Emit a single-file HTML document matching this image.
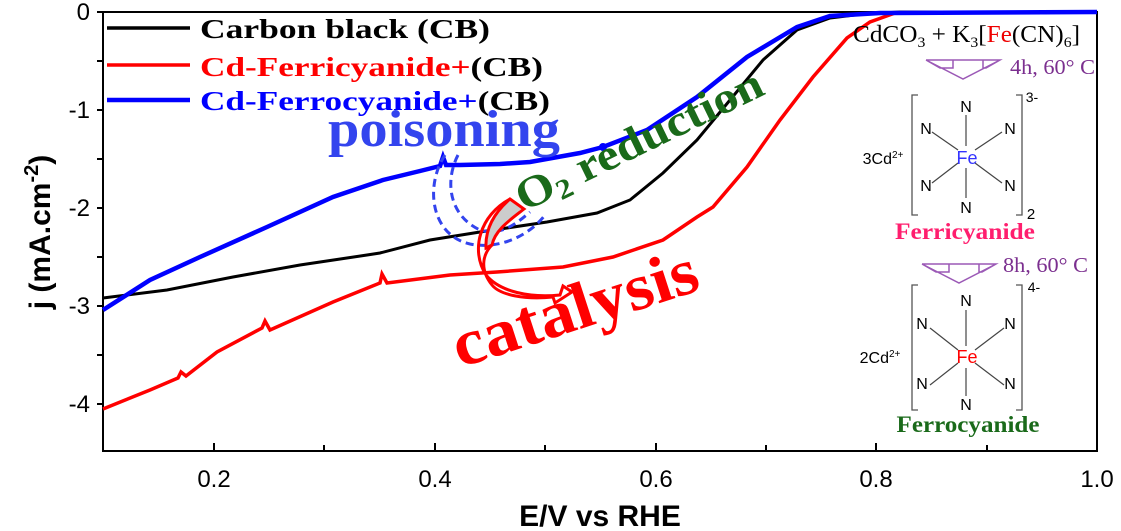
<!DOCTYPE html>
<html><head><meta charset="utf-8"><style>
body{margin:0;background:#fff}
svg{display:block}
text{font-family:"Liberation Sans",sans-serif}
.s{font-family:"Liberation Serif",serif}
</style></head><body>
<svg width="1121" height="531" viewBox="0 0 1121 531" xmlns="http://www.w3.org/2000/svg">
<rect x="103" y="12" width="994" height="439" fill="none" stroke="#000" stroke-width="2"/>
<g stroke="#000" stroke-width="2">
<line x1="97" y1="12" x2="103" y2="12"/><line x1="97" y1="61" x2="103" y2="61"/>
<line x1="97" y1="110" x2="103" y2="110"/><line x1="97" y1="159" x2="103" y2="159"/>
<line x1="97" y1="208" x2="103" y2="208"/><line x1="97" y1="257" x2="103" y2="257"/>
<line x1="97" y1="306" x2="103" y2="306"/><line x1="97" y1="355" x2="103" y2="355"/>
<line x1="97" y1="404" x2="103" y2="404"/>
<line x1="214" y1="451" x2="214" y2="443"/><line x1="324" y1="451" x2="324" y2="445"/>
<line x1="435" y1="451" x2="435" y2="443"/><line x1="545" y1="451" x2="545" y2="445"/>
<line x1="656" y1="451" x2="656" y2="443"/><line x1="766" y1="451" x2="766" y2="445"/>
<line x1="876" y1="451" x2="876" y2="443"/><line x1="987" y1="451" x2="987" y2="445"/>
</g>
<g font-size="24" text-anchor="end">
<text x="90" y="20">0</text><text x="90" y="118">-1</text><text x="90" y="216">-2</text>
<text x="90" y="314">-3</text><text x="90" y="412">-4</text>
</g>
<g font-size="24" text-anchor="middle">
<text x="214" y="487">0.2</text><text x="435" y="487">0.4</text><text x="656" y="487">0.6</text>
<text x="876" y="487">0.8</text><text x="1097" y="487">1.0</text>
</g>
<text x="600" y="526" font-size="30" font-weight="bold" text-anchor="middle">E/V vs RHE</text>
<text transform="translate(50,232) rotate(-90)" font-size="30" font-weight="bold" text-anchor="middle">j (mA.cm<tspan dy="-12" font-size="20">-2</tspan><tspan dy="12">)</tspan></text>

<path fill="none" stroke="#000" stroke-width="3" d="M103,298 L167,290 L233,277 L300,265 L367,255 L380,253 L430,240 L480,232 L547,222 L597,213 L630,200 L663,173 L697,140 L730,100 L763,60 L797,30 L830,18 L863,14 L900,12 L1097,12"/>
<path fill="none" stroke="#f00" stroke-width="3.5" d="M103,409 L150,390 L178,378 L181,372 L186,376 L217,352 L262,328 L265,321 L270,330 L333,302 L380,283 L382,274 L387,283 L450,275 L497,272 L563,267 L613,257 L663,240 L697,217 L713,207 L747,167 L780,120 L813,77 L847,38 L870,22 L895,13 L1097,12"/>
<path fill="none" stroke="#00f" stroke-width="4.5" d="M103,310 L150,280 L200,257 L267,227 L333,197 L383,180 L420,171 L440,166 L443,157 L446,165 L460,165 L500,164 L530,162 L580,153 L603,147 L647,130 L697,97 L747,57 L797,27 L830,16 L880,13 L1097,12"/>
<circle cx="603" cy="147" r="4" fill="#00f"/>

<g stroke-width="3.5"><line x1="107" y1="28" x2="190" y2="28" stroke="#000"/><line x1="107" y1="65" x2="190" y2="65" stroke="#f00"/><line x1="107" y1="100" x2="190" y2="100" stroke="#00f" stroke-width="4.5"/></g>
<g font-size="27" font-weight="bold">
<text class="s" x="200" y="38" textLength="290" lengthAdjust="spacingAndGlyphs">Carbon black (CB)</text>
<text class="s" x="200" y="76" fill="#f00" textLength="343" lengthAdjust="spacingAndGlyphs">Cd-Ferricyanide+<tspan fill="#000">(CB)</tspan></text>
<text class="s" x="200" y="110" fill="#00f" textLength="350" lengthAdjust="spacingAndGlyphs">Cd-Ferrocyanide+<tspan fill="#000">(CB)</tspan></text>
</g>

<text class="s" x="328" y="146" font-size="52" font-weight="bold" fill="#3344ee" textLength="232" lengthAdjust="spacingAndGlyphs">poisoning</text>
<text class="s" transform="translate(524,212) rotate(-26)" font-size="44" font-weight="bold" fill="#1a6a1a" textLength="270" lengthAdjust="spacingAndGlyphs">O<tspan font-size="28" dy="6">2</tspan><tspan dy="-6"> reduction</tspan></text>
<text class="s" transform="translate(460,368) rotate(-18)" font-size="66" font-weight="bold" fill="#f00" textLength="255" lengthAdjust="spacingAndGlyphs">catalysis</text>
<path d="M445,155 C425,185 430,235 470,244 C500,250 530,235 545,215" fill="none" stroke="#3344ee" stroke-width="3" stroke-dasharray="8,5"/>
<path d="M458,155 C445,180 448,215 480,230 C500,236 515,225 530,212" fill="none" stroke="#3344ee" stroke-width="3" stroke-dasharray="8,5"/>
<path d="M510,199 L524,209 C510,220 495,230 492,245 L486,248 C485,228 495,212 510,199 Z" fill="#ccc" stroke="#f00" stroke-width="3"/>
<path d="M510,199 C480,215 470,250 486,275 C500,292 530,298 560,295 L563,286 L572,292 L555,303 L553,297 C525,300 500,295 492,285 C480,270 482,255 492,245" fill="none" stroke="#f00" stroke-width="3"/>

<text class="s" x="853" y="42" font-size="24" textLength="227" lengthAdjust="spacingAndGlyphs">CdCO<tspan font-size="15" dy="5">3</tspan><tspan dy="-5"> + K</tspan><tspan font-size="15" dy="5">3</tspan><tspan dy="-5">[</tspan><tspan fill="#e00">Fe</tspan>(CN)<tspan font-size="15" dy="5">6</tspan><tspan dy="-5">]</tspan></text>
<path d="M926,60 H1000 L986,68 H983 V60 M926,60 L963,79 L1000,60 M926,60 L940,68 H953 V60" fill="none" stroke="#9b59b6" stroke-width="1.5"/>
<text class="s" x="1010" y="74" font-size="21" fill="#7b2f8f" textLength="85" lengthAdjust="spacingAndGlyphs">4h, 60° C</text>
<path d="M922,264 H996 L982,272 H979 V264 M922,264 L959,283 L996,264 M922,264 L936,272 H949 V264" fill="none" stroke="#9b59b6" stroke-width="1.5"/>
<text class="s" x="1003" y="272" font-size="21" fill="#7b2f8f" textLength="85" lengthAdjust="spacingAndGlyphs">8h, 60° C</text>

<g font-size="16" text-anchor="middle">
<path d="M918,95 H912 V215 H918 M1016,95 H1022 V215 H1016" fill="none" stroke="#555" stroke-width="1.3"/>
<text x="1032" y="102" font-size="14">3-</text><text x="1031" y="219" font-size="15">2</text>
<text x="883" y="164" font-size="16">3Cd<tspan font-size="10" dy="-6">2+</tspan></text>
<g stroke="#444" stroke-width="1.2"><line x1="966" y1="115" x2="966" y2="146"/><line x1="966" y1="168" x2="966" y2="198"/>
<line x1="932" y1="132" x2="958" y2="150"/><line x1="1002" y1="132" x2="975" y2="150"/><line x1="932" y1="183" x2="958" y2="163"/><line x1="1002" y1="183" x2="975" y2="163"/></g>
<text x="966" y="112">N</text><text x="966" y="213">N</text><text x="926" y="134">N</text><text x="1010" y="134">N</text><text x="926" y="191">N</text><text x="1010" y="191">N</text>
<text x="967" y="164" fill="#33f" font-size="18">Fe</text>
<path d="M918,285 H912 V410 H918 M1016,285 H1022 V410 H1016" fill="none" stroke="#555" stroke-width="1.3"/>
<text x="1034" y="292" font-size="14">4-</text>
<text x="880" y="363" font-size="16">2Cd<tspan font-size="10" dy="-6">2+</tspan></text>
<g stroke="#444" stroke-width="1.2"><line x1="966" y1="310" x2="966" y2="346"/><line x1="966" y1="368" x2="966" y2="396"/>
<line x1="930" y1="328" x2="958" y2="350"/><line x1="1004" y1="328" x2="975" y2="350"/><line x1="930" y1="385" x2="958" y2="363"/><line x1="1004" y1="385" x2="975" y2="363"/></g>
<text x="966" y="306">N</text><text x="966" y="410">N</text><text x="922" y="329">N</text><text x="1010" y="329">N</text><text x="922" y="389">N</text><text x="1010" y="389">N</text>
<text x="967" y="363" fill="#f00" font-size="18">Fe</text>
</g>
<text class="s" x="965" y="239" font-size="23" font-weight="bold" fill="#ff1e6e" text-anchor="middle" textLength="140" lengthAdjust="spacingAndGlyphs">Ferricyanide</text>
<text class="s" x="968" y="432" font-size="23" font-weight="bold" fill="#1a6a1a" text-anchor="middle" textLength="143" lengthAdjust="spacingAndGlyphs">Ferrocyanide</text>
</svg>
</body></html>
